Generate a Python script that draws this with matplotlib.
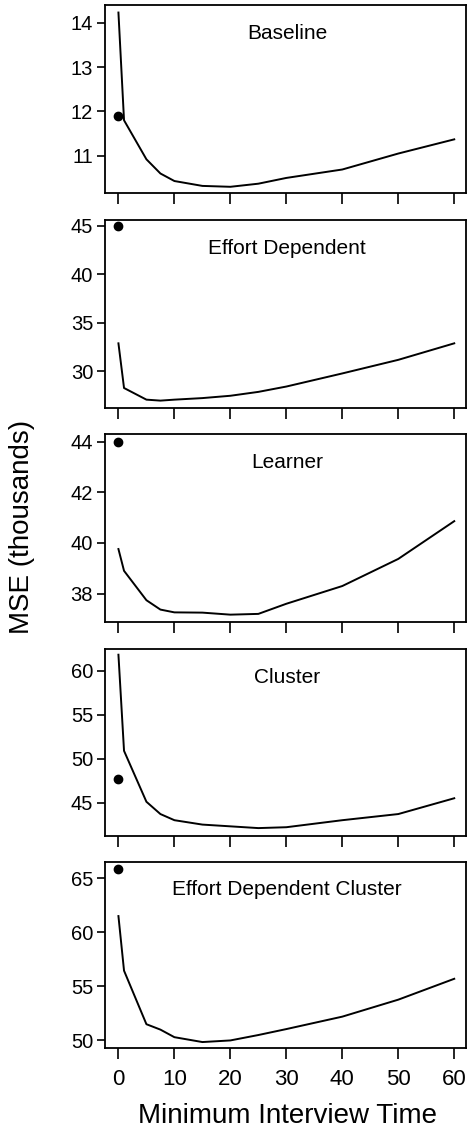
import numpy as np
import matplotlib
matplotlib.use("Agg")
import matplotlib.pyplot as plt

plt.rcParams['font.family'] = ['Liberation Sans', 'DejaVu Sans']

# minimum interview time (x)
mit = [0, 1, 5, 7.5, 10, 15, 20, 25, 30, 40, 50, 60]

# MSE (thousands) per model
baseline = [14.23, 11.8, 10.92, 10.6, 10.43, 10.32, 10.30, 10.37, 10.50, 10.69, 11.05, 11.37]
effort_dep = [32.9, 28.3, 27.1, 27.0, 27.1, 27.26, 27.5, 27.9, 28.45, 29.8, 31.2, 32.9]
learner = [39.76, 38.9, 37.74, 37.37, 37.26, 37.25, 37.17, 37.2, 37.6, 38.3, 39.37, 40.86]
cluster = [61.85, 50.9, 45.1, 43.7, 43.0, 42.5, 42.3, 42.1, 42.2, 43.0, 43.7, 45.5]
effort_dep_cluster = [61.5, 56.45, 51.5, 51.0, 50.3, 49.85, 50.0, 50.5, 51.05, 52.2, 53.77, 55.7]

# single point at x = 0 (dot)
dot_vals = [11.89, 44.95, 44.0, 47.7, 65.86]

titles = ["Baseline", "Effort Dependent", "Learner", "Cluster",
          "Effort Dependent Cluster"]
series = [baseline, effort_dep, learner, cluster, effort_dep_cluster]
yticks = [[11, 12, 13, 14], [30, 35, 40, 45], [38, 40, 42, 44],
          [45, 50, 55, 60], [50, 55, 60, 65]]
ylims = [(10.16, 14.4), (26.24, 45.6), (36.88, 44.3), (41.2, 62.5), (49.3, 66.5)]
xticks = [0, 10, 20, 30, 40, 50, 60]

# panel placement in pixels (top, bottom)
W, H = 467, 1132
panels_px = [(5, 193), (220, 408), (434, 622), (649, 836), (862, 1048)]
left_px, right_px = 105, 466

fig = plt.figure(figsize=(W / 100, H / 100), dpi=100)

for i in range(5):
    top, bot = panels_px[i]
    ax = fig.add_axes([left_px / W, 1 - bot / H, (right_px - left_px) / W, (bot - top) / H])
    ax.plot(mit, series[i], color='black', lw=1.4)
    ax.plot([0], [dot_vals[i]], 'o', color='black', ms=6)
    ax.set_xlim(-2.4, 62.1)
    ax.set_ylim(*ylims[i])
    ax.set_yticks(yticks[i])
    ax.set_xticks(xticks)
    ax.tick_params(direction='out', length=6, width=1.2, labelsize=14.5,
                   color='black', pad=2.5)
    ax.tick_params(axis='x', length=8)
    if i < 4:
        ax.set_xticklabels([])
    else:
        ax.tick_params(axis='x', labelsize=16, pad=7)
    for s in ax.spines.values():
        s.set_linewidth(1.3)
    ax.text(0.504, 0.85, titles[i], transform=ax.transAxes, ha='center',
            va='center', fontsize=15)

fig.text(287 / W, 1 - 1116 / H, "Minimum Interview Time", ha='center',
         va='center', fontsize=20)
fig.text(22.5 / W, 1 - 527 / H, "MSE (thousands)", rotation=90, ha='center',
         va='center', fontsize=20)

fig.savefig("out.png", dpi=100)
